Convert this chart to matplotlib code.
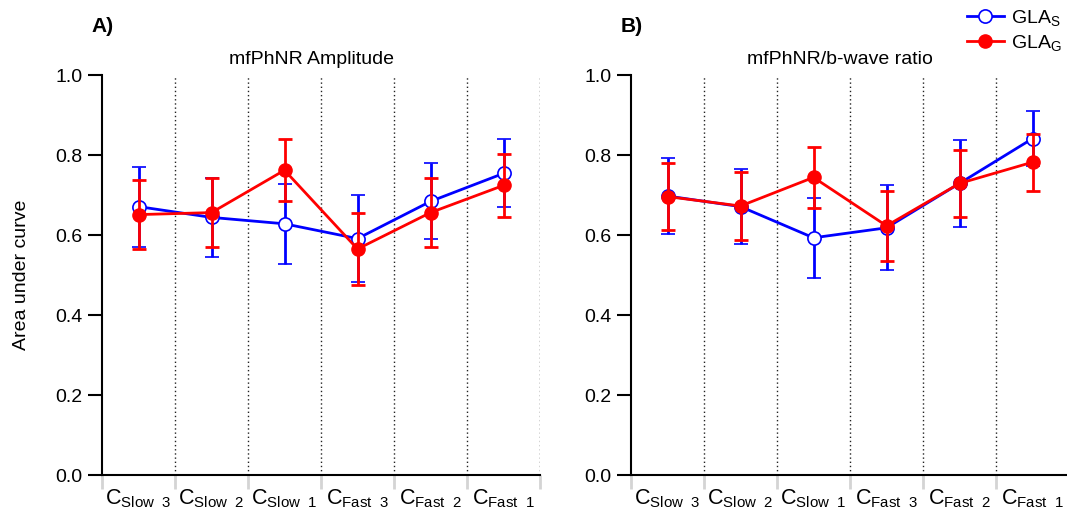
import numpy as np
import matplotlib
matplotlib.use('Agg')
import matplotlib.pyplot as plt
from matplotlib.lines import Line2D

plt.rcParams['font.family'] = ['Liberation Sans', 'DejaVu Sans']
plt.rcParams['mathtext.fontset'] = 'custom'
plt.rcParams['mathtext.rm'] = 'Liberation Sans'
plt.rcParams['mathtext.it'] = 'Liberation Sans'

categories = [r'C$_{\mathrm{Slow\ \ 3}}$', r'C$_{\mathrm{Slow\ \ 2}}$', r'C$_{\mathrm{Slow\ \ 1}}$',
              r'C$_{\mathrm{Fast\ \ 3}}$', r'C$_{\mathrm{Fast\ \ 2}}$', r'C$_{\mathrm{Fast\ \ 1}}$']

# panel A - mfPhNR amplitude
amp_s = [0.671, 0.644, 0.628, 0.591, 0.684, 0.754]
amp_s_err = [0.100, 0.098, 0.100, 0.108, 0.095, 0.085]
amp_g = [0.651, 0.656, 0.762, 0.565, 0.656, 0.724]
amp_g_err = [0.087, 0.087, 0.077, 0.090, 0.086, 0.079]

# panel B - mfPhNR/b-wave ratio
rat_s = [0.6975, 0.671, 0.593, 0.618, 0.729, 0.841]
rat_s_err = [0.094, 0.093, 0.100, 0.106, 0.108, 0.069]
rat_g = [0.696, 0.6725, 0.744, 0.623, 0.729, 0.782]
rat_g_err = [0.083, 0.086, 0.076, 0.088, 0.084, 0.071]

blue = '#0000ff'
red = '#ff0000'

W, H = 1067, 509
fig = plt.figure(figsize=(W / 100, H / 100), dpi=100)


def panel(left_px, title, s, s_err, g, g_err, letter, dotted):
    ax = fig.add_axes([left_px / W, (H - 475) / H, 438 / W, 400 / H])
    x = np.arange(len(categories))
    for d in dotted:
        ax.axvline(d, color='#222222', lw=1.0, ls=(0, (1, 2)), zorder=0)
    ax.errorbar(x, s, yerr=s_err, color=blue, lw=2, elinewidth=2, capsize=5, capthick=2,
                marker='o', ms=9.5, mfc='white', mec=blue, mew=1.2, zorder=2)
    ax.errorbar(x, g, yerr=g_err, color=red, lw=2, elinewidth=2, capsize=5, capthick=2,
                marker='o', ms=9.5, mfc=red, mec=red, zorder=3)
    ax.set_xlim(-0.5, 5.5)
    ax.set_ylim(0, 1)
    ax.set_yticks(np.arange(0, 1.01, 0.2))
    ax.set_yticklabels(['%.1f' % v for v in np.arange(0, 1.01, 0.2)], fontsize=14)
    ax.tick_params(axis='y', length=10, width=1.5, pad=4)
    ax.set_xticks(np.arange(-0.5, 5.6, 1))
    ax.set_xticklabels([])
    ax.tick_params(axis='x', which='major', length=10, width=2, color='#d4d4d4')
    ax.set_xticks(x, minor=True)
    ax.set_xticklabels(categories, minor=True, fontsize=15.5)
    ax.tick_params(axis='x', which='minor', length=0, pad=9)
    for sp in ['top', 'right']:
        ax.spines[sp].set_visible(False)
    for sp in ['left', 'bottom']:
        ax.spines[sp].set_linewidth(1.5)
    ax.text(0.478, 1.04, title, transform=ax.transAxes, ha='center', va='center', fontsize=14)
    ax.text(-0.024, 1.12, letter, transform=ax.transAxes, ha='left', va='center',
            fontsize=15, fontweight='heavy')
    return ax


axA = panel(102, 'mfPhNR Amplitude', amp_s, amp_s_err, amp_g, amp_g_err, 'A)',
            [0.5, 1.5, 2.5, 3.5, 4.5, 5.5])
axA.set_ylabel('Area under curve', fontsize=14)
axA.yaxis.set_label_coords(-0.165, 0.5)

axB = panel(631, 'mfPhNR/b-wave ratio', rat_s, rat_s_err, rat_g, rat_g_err, 'B)',
            [0.5, 1.5, 2.5, 3.5, 4.5])

handles = [Line2D([], [], color=blue, lw=2, marker='o', ms=9.5, mfc='white', mec=blue, mew=1.2),
           Line2D([], [], color=red, lw=2, marker='o', ms=9.5, mfc=red, mec=red)]
fig.legend(handles, [r'GLA$_{\mathrm{S}}$', r'GLA$_{\mathrm{G}}$'], loc='upper left',
           bbox_to_anchor=(955 / W, 1.007), frameon=False, fontsize=14,
           handlelength=1.9, handletextpad=0.4, labelspacing=0.25, borderpad=0.1)

fig.savefig('out.png', dpi=100)
